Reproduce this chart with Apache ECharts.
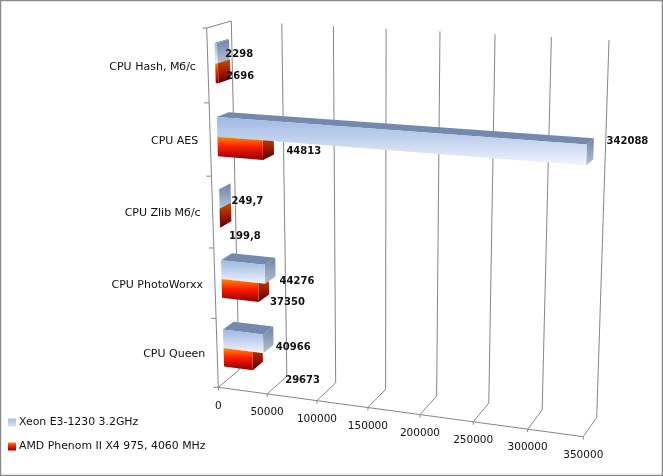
<!DOCTYPE html>
<html>
<head>
<meta charset="utf-8">
<style>html,body{margin:0;padding:0;background:#fff}#chart{width:663px;height:476px}</style>
<script src="https://cdn.jsdelivr.net/npm/echarts@6/dist/echarts.min.js"></script>
</head>
<body>
<div id="chart"></div>
<script>
// Benchmark results per test
const categories = ['CPU Hash, Мб/с', 'CPU AES', 'CPU Zlib Мб/с', 'CPU PhotoWorxx', 'CPU Queen'];
const xeonValues = [2298, 342088, 249.7, 44276, 40966];
const amdValues = [2696, 44813, 199.8, 37350, 29673];
const xeonText = ['2298', '342088', '249,7', '44276', '40966'];
const amdText = ['2696', '44813', '199,8', '37350', '29673'];
const valueTicks = [0, 50000, 100000, 150000, 200000, 250000, 300000, 350000];
const seriesNames = ['Xeon E3-1230 3.2GHz', 'AMD Phenom II X4 975, 4060 MHz'];

// Layout of the plot box in perspective: corners as [x, y]
const box = {
  fbl: [218.3, 387.3], fbr: [583.3, 436.7], bbl: [239, 370], bbr: [596.7, 417.3],
  ftl: [206.7, 28], ftr: [594.7, 50], btl: [231.3, 21], btr: [609, 40]
};
const GRID = { left: 100, top: 40, width: 350, height: 350 };
const FONT = '"DejaVu Sans", Verdana, sans-serif';
const BAR_SHARE = 0.27, DEPTH_NEAR = 0.3, DEPTH_FAR = 0.8;

// Pixel nudges of the value labels, measured from the end of each bar
const xeonNudge = [[22, 1], [41, -14], [28, 2], [32, 7], [30, 4]];
const amdNudge = [[22, 3], [41, 1], [25, 18], [29, 10], [50, 19]];

function warp(t, w) { return t / (t + w * (1 - t)); }
function mix(a, b, t) { return [a[0] + (b[0] - a[0]) * t, a[1] + (b[1] - a[1]) * t]; }

// Maps grid fractions u (along values), h (top to bottom), d (front to back) onto the page
function project(u, h, d) {
  const tu = warp(u, 1.08), th = warp(h, 0.95);
  const front = mix(mix(box.ftl, box.ftr, tu), mix(box.fbl, box.fbr, tu), th);
  const back = mix(mix(box.btl, box.btr, tu), mix(box.bbl, box.bbr, tu), th);
  return mix(front, back, d);
}
function fractions(px, py) {
  return [(px - GRID.left) / GRID.width, (py - GRID.top) / GRID.height];
}
function vGrad(stops) {
  return new echarts.graphic.LinearGradient(0, 0, 0, 1, stops.map(c => ({ offset: c[0], color: c[1] })));
}
const skin = [
  {
    front: [[0, '#9fb8e3'], [0.5, '#c5d4ef'], [1, '#f1f5fc']],
    side: [[0, '#6f84a6'], [1, '#b4c1d4']],
    top: '#748aad'
  },
  {
    front: [[0, '#ff8a00'], [0.45, '#fb1a00'], [1, '#8e0000']],
    side: [[0, '#b85800'], [0.5, '#a31d00'], [1, '#4e0000']],
    top: '#b85800'
  }
];
function poly(points, fill) {
  return { type: 'polygon', shape: { points }, style: { fill, stroke: null } };
}
function line(a, b, stroke) {
  return { type: 'line', shape: { x1: a[0], y1: a[1], x2: b[0], y2: b[1] }, style: { stroke: stroke || '#868686', lineWidth: 1 } };
}
function text(str, x, y, size, weight, align) {
  return {
    type: 'text', x, y,
    style: { text: str, fontFamily: FONT, fontSize: size, fontWeight: weight, fill: '#111', align: align || 'center', verticalAlign: 'middle' }
  };
}

function barRenderer(idx, labels, nudge) {
  return function (params, api) {
    const value = api.value(0), cat = api.value(1);
    const end = api.coord([value, cat]);
    const zero = api.coord([0, cat]);
    const band = api.size([0, 1])[1];
    const u0 = fractions(zero[0], zero[1])[0];
    const u1 = fractions(end[0], end[1])[0];
    const mid = fractions(end[0], end[1])[1];
    const step = BAR_SHARE * band / GRID.height;
    const hA = idx === 0 ? mid - step : mid;
    const hB = idx === 0 ? mid : mid + step;
    const d0 = DEPTH_NEAR, d1 = DEPTH_FAR, s = skin[idx];
    const anchor = project(u1, (hA + hB) / 2, d0);
    const n = nudge[params.dataIndex];
    return {
      type: 'group',
      children: [
        poly([project(u0, hA, d0), project(u0, hA, d1), project(u1, hA, d1), project(u1, hA, d0)], s.top),
        poly([project(u1, hA, d0), project(u1, hA, d1), project(u1, hB, d1), project(u1, hB, d0)], vGrad(s.side)),
        poly([project(u0, hA, d0), project(u1, hA, d0), project(u1, hB, d0), project(u0, hB, d0)], vGrad(s.front)),
        text(labels[params.dataIndex], anchor[0] + n[0], anchor[1] + n[1], 10, 'bold')
      ]
    };
  };
}

// Back wall, floor lines and the value scale
function valueFrame(params, api) {
  const c = api.coord([api.value(0), 0]);
  const u = fractions(c[0], c[1])[0];
  const foot = project(u, 1, 0), rear = project(u, 1, 1), head = project(u, 0, 1);
  return {
    type: 'group',
    children: [
      line(foot, rear), line(rear, head),
      line(foot, [foot[0], foot[1] + 3]),
      text(String(api.value(0)), foot[0], foot[1] + 18.5, 10.5, 'normal')
    ]
  };
}
// Left wall, front floor edge and the category scale
function categoryFrame(params, api) {
  const cat = api.value(0);
  const c = api.coord([0, cat]);
  const band = api.size([0, 1])[1];
  const f = fractions(c[0], c[1]);
  const hUp = f[1] - band / 2 / GRID.height, hLow = f[1] + band / 2 / GRID.height;
  const up = project(f[0], hUp, 0);
  const low = project(f[0], hLow, 0);
  const mid = mix(up, low, 0.5);
  const children = [
    line(up, low),
    line(low, [low[0] - 5, low[1]]),
    text(categories[cat], mid[0] - 12, mid[1] + 1.5, 11, 'normal', 'right')
  ];
  if (cat === 0) {
    children.push(line(up, [up[0] - 4, up[1]]));
    children.push(line(up, project(f[0], hUp, 1)));
  }
  if (cat === categories.length - 1) {
    children.push(line(low, project(f[0] + 1, hLow, 0)));
  }
  return { type: 'group', children };
}

const chart = echarts.init(document.getElementById('chart'), null, { renderer: 'canvas' });
chart.setOption({
  animation: false,
  backgroundColor: '#fff',
  grid: GRID,
  xAxis: { type: 'value', min: 0, max: 350000, interval: 50000, show: false },
  yAxis: { type: 'category', data: categories, inverse: true, show: false },
  legend: {
    data: seriesNames, orient: 'vertical', left: 8, top: 417, padding: 0,
    icon: 'rect', itemWidth: 8, itemHeight: 8, itemGap: 13,
    textStyle: { fontFamily: FONT, fontSize: 10.9, color: '#111', padding: [0, 0, 0, -2] },
    selectedMode: false
  },
  graphic: [{
    type: 'rect', silent: true, z: 100,
    shape: { x: 0.5, y: 0.5, width: 662, height: 475 },
    style: { fill: null, stroke: '#8c8c8c', lineWidth: 1.5 }
  }],
  series: [
    {
      type: 'custom', name: 'values', z: 1, silent: true, coordinateSystem: 'cartesian2d',
      data: valueTicks.map(v => [v]), encode: { x: 0 }, renderItem: valueFrame
    },
    {
      type: 'custom', name: 'groups', z: 1, silent: true, coordinateSystem: 'cartesian2d',
      data: categories.map((c, i) => [i]), encode: { y: 0 }, renderItem: categoryFrame
    },
    {
      type: 'custom', name: seriesNames[1], z: 2, coordinateSystem: 'cartesian2d',
      itemStyle: { color: vGrad(skin[1].front) },
      data: amdValues.map((v, i) => [v, i]), encode: { x: 0, y: 1 },
      renderItem: barRenderer(1, amdText, amdNudge)
    },
    {
      type: 'custom', name: seriesNames[0], z: 3, coordinateSystem: 'cartesian2d',
      itemStyle: { color: vGrad([[0, '#a9bfe6'], [1, '#d5e0f4']]) },
      data: xeonValues.map((v, i) => [v, i]), encode: { x: 0, y: 1 },
      renderItem: barRenderer(0, xeonText, xeonNudge)
    }
  ]
});
</script>
</body>
</html>
